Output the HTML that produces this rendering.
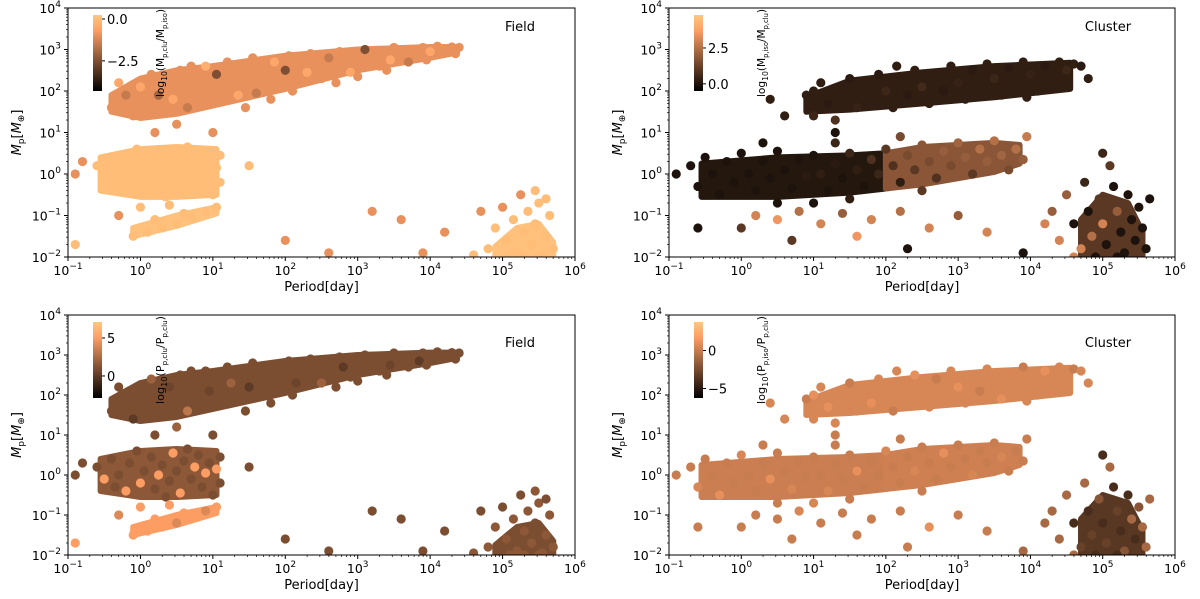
<!DOCTYPE html>
<html><head><meta charset="utf-8"><style>
body{margin:0;background:#fff;}
svg{display:block;font-family:"DejaVu Sans","Liberation Sans",sans-serif;}
</style></head><body>
<svg id="fig" width="1200" height="599" viewBox="0 0 1200 599" xmlns="http://www.w3.org/2000/svg"></svg>
<script>
// Field population: [log10 P, log10 M, colour top panel, colour bottom panel]
const fieldBand = [[-0.4,1.6,-1,1],[-0.2,1.9,-1.5,1],[-0.1,1.4,-1,0],[0,2.1,-0.5,1],[0.1,1.7,-1,1],[0.15,2.4,-1,2],[0.25,1.9,-2,1],[0.3,1.5,-1,1],[0.4,2.2,-1,0.5],[0.45,1.8,-0.5,1],[0.55,2.5,-1,1],[0.6,2.0,-1,1],[0.65,1.6,-1.5,3],[0.75,2.3,-1,1],[0.8,1.9,-1,1],[0.9,2.6,-0.3,1],[0.95,2.1,-1,0.5],[1.0,1.7,-1,1],[1.05,2.4,-2.5,1],[1.15,2.0,-1,1],[1.2,2.7,-1,1],[1.25,2.3,-1,2],[1.35,1.9,-0.5,1],[1.4,2.5,-1,1],[1.5,2.2,-1,0],[1.55,2.8,-1,1],[1.6,1.95,-1.5,1],[1.7,2.5,-1,1],[1.75,2.3,-1,1],[1.85,2.7,-0.5,1],[1.9,2.1,-1,1],[2.0,2.5,-2.5,1],[2.05,2.85,-1,1],[2.15,2.3,-1,0.5],[2.2,2.65,-1,1],[2.3,2.45,-0.5,1],[2.35,2.9,-1,1],[2.45,2.6,-1,1],[2.5,2.3,-1,2],[2.6,2.8,-1.5,1],[2.65,2.5,-1,1],[2.75,2.95,-1,1],[2.8,2.7,-1,0],[2.9,2.45,-0.5,1],[2.95,2.85,-1,1],[3.05,2.6,-1,1],[3.1,3.0,-2.5,1],[3.2,2.8,-1,1],[3.3,2.6,-1,1],[3.35,2.95,-1,1],[3.45,2.75,-0.5,0.5],[3.5,3.05,-1,1],[3.6,2.85,-1,1],[3.7,2.7,-1.5,1],[3.75,3.0,-1,1],[3.85,2.85,-1,0],[3.9,3.05,-1,1],[4.0,2.95,-0.5,1],[4.1,3.08,-1,1],[4.2,2.98,-1,1],[4.3,3.06,-1,1],[4.4,3.05,-1,1],[4.35,2.9,-1,1],[3.95,2.75,-1,1],[3.4,2.5,-1,1],[2.7,2.2,-1,1],[2.1,2.0,-1,1],[1.45,1.6,-1,1],[0.5,1.2,-1,2],[1.0,1.0,-1,1],[0.2,1.0,-1,1],[1.8,1.8,-1,1],[3.0,2.35,-1,1],[-0.3,2.2,-0.5,1],[0.7,2.6,-1,1]];
const fieldLow = [[-0.6,0.2,0,1],[-0.5,-0.1,0,5],[-0.4,0.4,0,1],[-0.3,0.0,0,1],[-0.2,-0.4,0,5],[-0.15,0.3,0,1],[-0.05,0.6,0,1],[0,-0.2,0,5],[0.05,0.1,0,1],[0.15,0.45,0,1],[0.2,-0.35,0,1],[0.25,0.0,0,5],[0.3,0.25,0,1],[0.4,-0.15,0,1],[0.45,0.55,0,5],[0.5,0.1,0,1],[0.55,-0.45,0,5],[0.6,0.35,0,1],[0.7,-0.1,0,1],[0.75,0.2,0,5],[0.8,0.5,0,1],[0.85,-0.3,0,1],[0.9,0.05,0,5],[0.95,0.3,0,1],[1.0,-0.5,0,1],[1.05,0.15,0,5],[1.1,0.45,0,1],[1.1,-0.2,0,1],[0.35,-0.55,0,1],[-0.35,-0.3,0,1],[0.65,0.65,0,1],[-0.8,0.3,-1,1],[-0.9,0.0,-1,1]];
const fieldTail = [[-0.1,-1.5,0,5],[0.1,-1.4,0,5],[0.3,-1.3,0,5],[0.5,-1.2,0,4],[0.7,-1.05,0,5],[0.9,-0.9,0,4],[1.05,-0.8,0,5],[0.2,-1.1,0,5],[0.6,-0.95,0,5],[-0.3,-1.0,-1,4],[0,-0.8,0,5],[0.4,-0.75,0,5]];
const fieldFar = [[4.8,-1.8,0,1.5],[4.9,-1.3,0,1.5],[5.0,-0.8,-1,1],[5.05,-1.6,0,1.5],[5.15,-1.1,0,1.5],[5.2,-1.9,0,1.5],[5.25,-0.5,-1,1],[5.3,-1.4,0,1.5],[5.35,-0.9,0,1.5],[5.4,-1.7,0,1.5],[5.45,-1.2,0,1],[5.5,-0.7,0,1.5],[5.55,-1.95,0,1.5],[5.6,-1.5,0,1.5],[5.65,-1.0,0,1.5],[5.7,-1.8,0,1.5],[4.6,-1.95,0,1.5],[5.1,-2.0,0,1.5],[5.3,-2.0,0,1.5],[5.5,-2.0,0,1.5],[5.6,-0.6,0,1],[4.7,-0.9,-1,1],[5.45,-0.4,0,1.5]];
const fieldScatter = [[1.5,0.2,0,1],[2.0,-1.6,-1,1],[3.6,-1.1,-1,1],[3.9,-1.9,-1,1],[4.2,-1.4,-1,1],[2.6,-1.9,-1,1],[-0.9,-1.7,0,5],[3.2,-0.9,-1,1]];
// Field dense-cloud envelopes: [log10 P, low log10 M, high log10 M]
const fieldBandEnv = [[-0.4,1.5,1.9],[0,1.35,2.3],[0.5,1.45,2.5],[1,1.65,2.6],[2,2.05,2.85],[3,2.5,3.0],[4,2.8,3.06],[4.35,2.92,3.06]];
const fieldLowEnv = [[-0.55,-0.4,0.4],[0,-0.55,0.6],[0.5,-0.55,0.65],[1.05,-0.5,0.6]];
const fieldTailEnv = [[-0.1,-1.5,-1.3],[0.5,-1.25,-1.0],[1.05,-0.95,-0.8]];
const fieldFarEnv = [[4.9,-2,-1.75],[5.2,-2,-1.3],[5.5,-2,-1.2],[5.7,-2,-1.65]];
// Envelope colour values: [top panel, bottom panel]
const fieldEnvColours = [[-1,1],[0,1.5],[0.1,5],[0.1,1]];
// Cluster population
const clusterBand = [[0.6,1.4,0.3,0.5],[0.9,1.9,0.3,0],[1.0,1.4,0.5,0.5],[1.1,2.2,0.3,0.5],[1.2,1.7,0.2,1],[1.3,1.3,0.8,0.5],[1.4,2.0,0.3,0.5],[1.5,2.3,0.2,0],[1.6,1.6,0.4,0.5],[1.7,2.1,0.3,0.5],[1.8,1.8,0.3,1],[1.9,2.4,0.2,0.5],[2.0,2.0,0.5,0.5],[2.1,1.6,0.3,0],[2.2,2.3,0.3,0.5],[2.3,1.9,0.2,0.5],[2.4,2.5,0.3,1],[2.5,2.1,0.6,0.5],[2.6,1.7,0.3,0.5],[2.7,2.4,0.3,0],[2.8,2.0,0.2,0.5],[2.9,2.6,0.3,0.5],[3.0,2.2,0.4,1],[3.1,1.8,0.3,0.5],[3.2,2.5,0.2,0.5],[3.3,2.1,0.3,0],[3.4,2.65,0.3,0.5],[3.5,2.3,0.5,0.5],[3.6,1.9,0.3,1],[3.7,2.55,0.2,0.5],[3.8,2.2,0.3,0.5],[3.9,2.7,0.3,0],[4.0,2.4,0.4,0.5],[4.1,2.0,0.3,0.5],[4.2,2.6,0.2,1],[4.3,2.3,0.3,0.5],[4.4,2.7,0.3,0.5],[4.5,2.5,0.5,0.5],[4.6,2.65,0.3,0],[4.5,2.2,0.3,0.5],[4.7,2.6,0.2,0.5],[3.95,1.85,0.3,0.5],[2.15,2.6,0.3,0.5],[1.0,2.0,0.3,1],[0.4,1.8,0.3,0.5],[4.8,2.3,0.3,0.5]];
const clusterMid = [[-0.7,0.2,0,0],[-0.6,-0.3,0,0.5],[-0.5,0.4,0,0],[-0.4,0.0,0,0],[-0.3,-0.5,0,1],[-0.2,0.3,0,0],[-0.1,-0.2,0,0],[0,0.5,0,0.5],[0.1,0.0,0,0],[0.2,-0.4,0,0],[0.3,0.3,0,0],[0.4,-0.1,0,1],[0.5,0.55,0,0],[0.6,0.1,0,0],[0.7,-0.35,0,0.5],[0.8,0.35,0,0],[0.9,-0.05,0.2,0],[1.0,0.45,0,0],[1.1,0.0,0.3,0],[1.2,-0.4,0,0.5],[1.3,0.25,0.2,0],[1.4,-0.1,0,0],[1.5,0.5,0.5,0],[1.6,0.1,0.3,1],[1.7,-0.3,0,0],[1.8,0.35,0.8,0],[1.9,0.0,0.5,0],[2.0,0.6,1.0,0.5],[2.1,0.2,0.8,0],[2.2,-0.2,0.3,0],[2.3,0.45,1.5,0],[2.4,0.1,1.0,0.5],[2.5,0.7,1.8,0],[2.6,0.3,1.5,0],[2.7,-0.1,0.8,0],[2.8,0.55,2.0,1],[2.9,0.2,1.5,0],[3.0,0.75,2.2,0],[3.1,0.4,2.0,0],[3.2,0.0,1.0,0.5],[3.3,0.6,2.5,0],[3.4,0.3,2.0,0],[3.5,0.8,2.5,0],[3.6,0.45,2.2,0.5],[3.7,0.1,1.5,0],[3.8,0.6,2.5,0],[3.9,0.35,2.0,0],[3.95,0.9,2.8,0],[-0.9,0.0,0,0],[0.3,0.75,0,0],[1.3,0.75,0.5,0],[2.2,0.9,1.5,0],[1.0,-0.7,0,0.5],[0.5,-0.7,0,0],[1.5,-0.6,0.3,0],[2.5,-0.4,1.0,0]];
const clusterLow = [[0.2,-1.0,3,0],[0.5,-1.1,3.5,0],[0.8,-0.9,2.5,0.5],[1.1,-1.2,3,0],[1.4,-0.95,2,0],[1.8,-1.1,3,0],[2.2,-0.9,2.5,0],[2.6,-1.3,3,1],[3.0,-1.0,2,0],[3.4,-1.4,3,0],[0,-1.3,1,0],[1.6,-1.5,3.5,0]];
const clusterFar = [[4.5,-0.5,2,-1],[4.6,-1.2,0,-4],[4.7,-1.8,3,-3],[4.75,-0.2,0.5,-1],[4.8,-0.9,0,-4],[4.85,-1.5,2.5,-3],[4.9,-2.0,0,-4],[4.95,-0.6,1,-2],[5.0,-1.2,3,-4],[5.05,-1.7,0,-3],[5.1,0.2,1,-1],[5.15,-0.3,0,-4],[5.2,-0.9,2,-3],[5.25,-1.4,0,-4],[5.3,-1.9,0,-2],[5.35,-0.5,0,-4],[5.4,-1.1,0,-1],[5.45,-1.6,0,-4],[5.5,-0.8,0,-2],[5.55,-1.3,0,-1],[5.6,-1.8,0,-1],[5.65,-0.6,0,-1],[4.4,-1.6,3,-1],[4.3,-0.9,2,-1],[5.0,0.5,0.5,-4],[5.2,-2.0,0,-4],[4.6,-2.0,3,-1]];
const clusterScatter = [[-0.6,-1.3,0,0],[0.7,-1.6,1,0],[2.3,-1.8,0,0],[3.9,-1.9,0,-1],[1.3,1.0,0,0],[4.2,-1.2,3,-1]];
const clusterBandEnv = [[0.9,1.5,1.85],[1.5,1.55,2.25],[2.5,1.7,2.45],[3.5,1.85,2.6],[4.55,2.05,2.68]];
const clusterMidLeftEnv = [[-0.55,-0.55,0.25],[0.5,-0.55,0.4],[1.5,-0.45,0.45],[2.0,-0.35,0.5]];
const clusterMidRightEnv = [[2.0,-0.35,0.5],[2.5,-0.25,0.65],[3.5,0.05,0.75],[3.85,0.25,0.7]];
const clusterFarEnv = [[4.7,-2,-1.1],[5.0,-2,-0.5],[5.35,-2,-0.7],[5.55,-2,-1.4]];
const clusterEnvColours = [[0.3,0.5],[0.1,0.1],[1.8,0.2],[1.0,-3.5]];
// Colourbar ranges and tick labels
const cbRanges = [[-4.3,0.24],[-0.5,4.8],[-2.9,7.1],[-6.25,3.75]];
const cbTicks = [[0,-2.5],[2.5,0],[5,0],[0,-5]];
const cbTickLabels = [["0.0","−2.5"],["2.5","0.0"],["5","0"],["0","−5"]];
const xTicks = [-1,0,1,2,3,4,5,6];
const yTicks = [-2,-1,0,1,2,3,4];

const NS="http://www.w3.org/2000/svg";
const svg=document.getElementById('fig');
function mk(tag,attrs,parent){const e=document.createElementNS(NS,tag);for(const k in attrs)e.setAttribute(k,attrs[k]);(parent||svg).appendChild(e);return e;}
function copper(t){t=Math.max(0,Math.min(1,t));return `rgb(${Math.round(255*Math.min(1,1.25*t))},${Math.round(255*0.7812*t)},${Math.round(255*0.4975*t)})`;}
function sup(parent,x,y,anchor,exp){const t=mk('text',{x:x,y:y,'text-anchor':anchor,'font-size':12.5,fill:'#000'},parent);t.textContent='10';const s=mk('tspan',{dy:-6,'font-size':9},t);s.textContent=exp.replace('-','−');return t;}

const fieldPts=[fieldBand,fieldLow,fieldTail,fieldFar,fieldScatter];
const clusterPts=[clusterBand,clusterMid,clusterLow,clusterFar,clusterScatter];
const fieldEnvs=[fieldBandEnv,fieldLowEnv,fieldTailEnv,fieldFarEnv];
const clusterEnvs=[clusterBandEnv,clusterMidLeftEnv,clusterMidRightEnv,clusterFarEnv];
const panels=[
 {x0:68,y0:8,w:507,h:249,pts:fieldPts,envs:fieldEnvs,ec:fieldEnvColours,ei:0,ci:2,cb:0,label:'Field',lx:520,ly:31,ct:['M','clu','iso']},
 {x0:669,y0:8,w:506,h:249,pts:clusterPts,envs:clusterEnvs,ec:clusterEnvColours,ei:0,ci:2,cb:1,label:'Cluster',lx:1108,ly:31,ct:['M','iso','clu']},
 {x0:68,y0:315,w:507,h:240,pts:fieldPts,envs:fieldEnvs,ec:fieldEnvColours,ei:1,ci:3,cb:2,label:'Field',lx:520,ly:347,ct:['P','clu','clu']},
 {x0:669,y0:315,w:506,h:240,pts:clusterPts,envs:clusterEnvs,ec:clusterEnvColours,ei:1,ci:3,cb:3,label:'Cluster',lx:1108,ly:347,ct:['P','iso','clu']}
];
panels.forEach((p,pi)=>{
 const g=mk('g',{});
 
 
 const X=v=>p.x0+(v+1)*p.w/7, Y=v=>p.y0+p.h-(v+2)*p.h/6;
 const cid='clip'+pi;
 const cp=mk('clipPath',{id:cid},g);mk('rect',{x:p.x0,y:p.y0,width:p.w,height:p.h},cp);
 const pg=mk('g',{'clip-path':`url(#${cid})`},g);
 const [lo,hi]=cbRanges[p.cb];
 p.envs.forEach((env,k)=>{
   const top=env.map(e=>X(e[0])+','+Y(e[2]));
   const bot=env.slice().reverse().map(e=>X(e[0])+','+Y(e[1]));
   const col=copper((p.ec[k][p.ei]-lo)/(hi-lo));
   const poly=mk('polygon',{points:top.concat(bot).join(' '),fill:col,stroke:col,'stroke-width':6,'stroke-linejoin':'round'},pg);
   
   
 });
 p.pts.forEach(arr=>arr.forEach(d=>{
   const c=mk('circle',{cx:X(d[0]),cy:Y(d[1]),r:4.6,fill:copper((d[p.ci]-lo)/(hi-lo))},pg);
   
   
 }));
 const fr=mk('rect',{x:p.x0,y:p.y0,width:p.w,height:p.h,fill:'none',stroke:'#000','stroke-width':1},g);
 
 xTicks.forEach(v=>{
  mk('line',{x1:X(v),x2:X(v),y1:p.y0+p.h,y2:p.y0+p.h+4,stroke:'#000'},g);
  if(v<6)for(let k=2;k<10;k++){const xx=X(v+Math.log10(k));mk('line',{x1:xx,x2:xx,y1:p.y0+p.h,y2:p.y0+p.h+2,stroke:'#000','stroke-width':0.7},g);}
  const t=sup(g,X(v),p.y0+p.h+18,'middle',String(v));
  
 });
 yTicks.forEach(v=>{
  mk('line',{x1:p.x0-4,x2:p.x0,y1:Y(v),y2:Y(v),stroke:'#000'},g);
  if(v<4)for(let k=2;k<10;k++){const yy=Y(v+Math.log10(k));mk('line',{x1:p.x0-2,x2:p.x0,y1:yy,y2:yy,stroke:'#000','stroke-width':0.7},g);}
  const t=sup(g,p.x0-7,Y(v)+5,'end',String(v));
  
 });
 const xt=mk('text',{x:p.x0+p.w/2,y:p.y0+p.h+34,'text-anchor':'middle','font-size':13},g);
 xt.textContent='Period[day]';
 const yt=mk('text',{x:0,y:0,'text-anchor':'middle','font-size':13,transform:`translate(${p.x0-47},${p.y0+p.h/2}) rotate(-90)`},g);
 yt.innerHTML='<tspan font-style="italic">M</tspan><tspan font-size="9" dy="3">p</tspan><tspan dy="-3">[</tspan><tspan font-style="italic">M</tspan><tspan font-size="9" dy="3">⊕</tspan><tspan dy="-3">]</tspan>';
 
 const lb=mk('text',{x:p.lx,y:p.ly,'text-anchor':'middle','font-size':13},g);
 lb.textContent=p.label;
 // colorbar
 const cbx=p.x0+25, cby=p.y0+7, cbw=9, cbh=76;
 const gid='grad'+pi;const lg=mk('linearGradient',{id:gid,x1:0,y1:1,x2:0,y2:0},g);
 for(let i=0;i<=10;i++)mk('stop',{offset:i/10,'stop-color':copper(i/10)},lg);
 const cb=mk('rect',{x:cbx,y:cby,width:cbw,height:cbh,fill:`url(#${gid})`},g);
 
 cbTicks[p.cb].forEach((v,i)=>{
  const yy=cby+cbh-(v-lo)/(hi-lo)*cbh;
  mk('line',{x1:cbx+cbw,x2:cbx+cbw+3,y1:yy,y2:yy,stroke:'#000'},g);
  const t=mk('text',{x:cbx+cbw+5,y:yy+5,'font-size':13},g);t.textContent=cbTickLabels[p.cb][i];
  
 });
 const ct=mk('text',{x:0,y:0,'text-anchor':'middle','font-size':11,textLength:88,lengthAdjust:'spacingAndGlyphs',transform:`translate(${cbx+71},${cby+38}) rotate(-90)`},g);
 ct.innerHTML=`log<tspan font-size="8" dy="3">10</tspan><tspan dy="-3">(${p.ct[0]}</tspan><tspan font-size="7" dy="3">p,${p.ct[1]}</tspan><tspan dy="-3">/${p.ct[0]}</tspan><tspan font-size="7" dy="3">p,${p.ct[2]}</tspan><tspan dy="-3">)</tspan>`;
 
});
</script>
</body></html>
